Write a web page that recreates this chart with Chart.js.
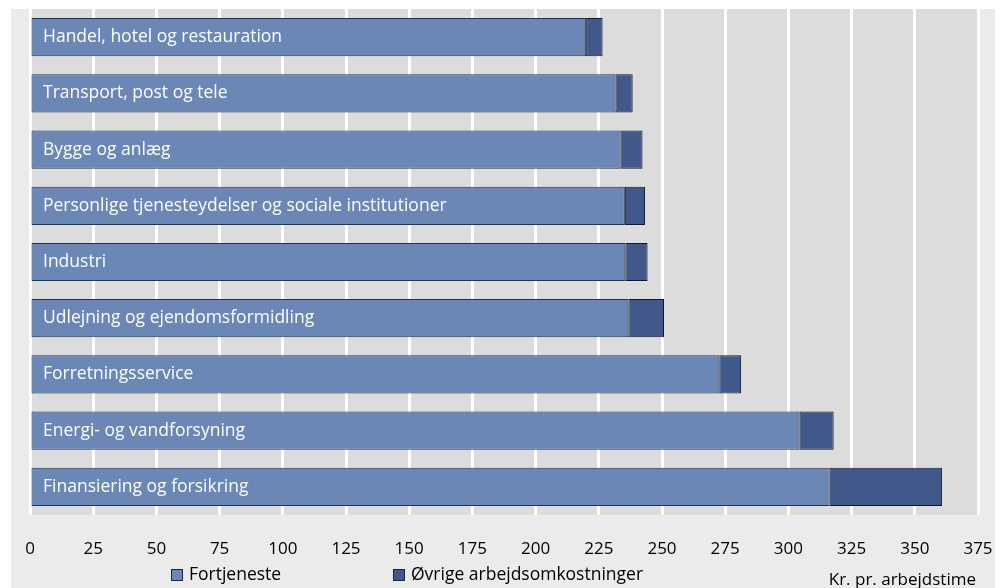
<!DOCTYPE html>
<html>
<head>
<meta charset="utf-8">
<script src="https://cdn.jsdelivr.net/npm/chart.js@4/dist/chart.umd.min.js"></script>
<style>
html,body{margin:0;padding:0;background:#fff;}
#wrap{width:1008px;height:588px;position:relative;}
</style>
</head>
<body>
<div id="wrap"><canvas id="c" width="1008" height="588"></canvas></div>
<script>
const categories = [
  "Handel, hotel og restauration",
  "Transport, post og tele",
  "Bygge og anlæg",
  "Personlige tjenesteydelser og sociale institutioner",
  "Industri",
  "Udlejning og ejendomsformidling",
  "Forretningsservice",
  "Energi- og vandforsyning",
  "Finansiering og forsikring"
];
const fortjeneste = [220, 231.6, 233.6, 235.3, 235.5, 236.7, 272.7, 304.4, 316.3];
const ovrige = [6.5, 6.8, 8.7, 8.0, 8.8, 14.1, 8.6, 13.5, 44.5];
const seriesNames = ["Fortjeneste", "Øvrige arbejdsomkostninger"];
const axisTitle = "Kr. pr. arbejdstime";
const xMin = 0, xMax = 375, xStep = 25;

const FONT = "'Open Sans', sans-serif";
const colors = ["#6a87b6", "#41598a"];

const bgPlugin = {
  id: 'bg',
  beforeDraw(chart) {
    const ctx = chart.ctx, a = chart.chartArea;
    ctx.save();
    ctx.fillStyle = '#ffffff';
    ctx.fillRect(0, 0, chart.width, chart.height);
    ctx.fillStyle = '#ebebeb';
    ctx.fillRect(11, 9, 984, chart.height - 9);
    ctx.fillStyle = '#dcdcdc';
    ctx.fillRect(a.left, a.top, a.right - a.left, a.bottom - a.top);
    ctx.restore();
  },
  afterDraw(chart) {
    const ctx = chart.ctx, y = chart.scales.y, a = chart.chartArea;
    ctx.save();
    ctx.fillStyle = '#ffffff';
    ctx.font = "17.5px " + FONT;
    ctx.textBaseline = 'middle';
    ctx.textAlign = 'left';
    categories.forEach((c, i) => {
      ctx.fillText(c, a.left + 13, y.getPixelForValue(i));
    });
    // legend
    ctx.font = "17.5px " + FONT;
    const items = [{x: 171}, {x: 393}];
    items.forEach((it, i) => {
      ctx.fillStyle = colors[i];
      ctx.fillRect(it.x, 569, 12, 12);
      ctx.strokeStyle = '#1c2640';
      ctx.lineWidth = 1;
      ctx.strokeRect(it.x + 0.5, 569.5, 11, 11);
      ctx.fillStyle = '#000';
      ctx.textBaseline = 'middle';
      ctx.fillText(seriesNames[i], it.x + 18, 575);
    });
    ctx.font = "17px " + FONT;
    ctx.textAlign = 'right';
    ctx.fillText(axisTitle, 976, 580);
    ctx.restore();
  }
};

new Chart(document.getElementById('c'), {
  type: 'bar',
  data: {
    labels: categories,
    datasets: [
      {label: seriesNames[0], data: fortjeneste, backgroundColor: colors[0], borderColor: '#26314d', borderWidth: 1, borderSkipped: false, categoryPercentage: 0.68, barPercentage: 1},
      {label: seriesNames[1], data: ovrige, backgroundColor: colors[1], borderColor: '#101828', borderWidth: 1, borderSkipped: false, categoryPercentage: 0.68, barPercentage: 1}
    ]
  },
  options: {
    indexAxis: 'y',
    responsive: false,
    animation: false,
    layout: {padding: {left: 30, right: 30, top: 9, bottom: 0}},
    plugins: {legend: {display: false}, tooltip: {enabled: false}},
    scales: {
      x: {
        stacked: true, min: xMin, max: xMax,
        ticks: {stepSize: xStep, color: '#000', font: {family: FONT, size: 17}, padding: 24, maxRotation: 0, autoSkip: false},
        grid: {color: '#ffffff', lineWidth: 3, drawTicks: false},
        border: {display: false},
        afterFit(s) { s.height = 73; s.paddingLeft = 0; s.paddingRight = 0; }
      },
      y: {
        stacked: true, display: false
      }
    }
  },
  plugins: [bgPlugin]
});
</script>
</body>
</html>
